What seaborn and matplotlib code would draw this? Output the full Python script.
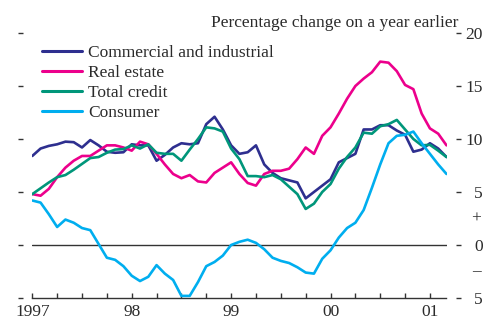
import numpy as np
import pandas as pd
import matplotlib
matplotlib.use("Agg")
import matplotlib.pyplot as plt
from matplotlib.ticker import MultipleLocator, FuncFormatter, FixedLocator
import seaborn as sns

# Monthly observations, January 1997 to March 2001
months = pd.date_range("1997-01-01", "2001-03-01", freq="MS")

commercial_industrial = [
    8.4, 9.1, 9.35, 9.5, 9.75, 9.7, 9.2, 9.9, 9.4, 8.8,
    8.7, 8.75, 9.5, 9.4, 9.4, 7.95, 8.5, 9.2, 9.6, 9.5,
    9.6, 11.4, 12.1, 10.9, 9.4, 8.6, 8.75, 9.4, 7.6, 6.8,
    6.3, 6.1, 5.9, 4.4, 5.0, 5.6, 6.2, 7.8, 8.2, 8.6,
    10.9, 10.9, 11.3, 11.3, 10.8, 10.4, 8.8, 9.0, 9.6, 9.1, 8.3,
]
real_estate = [
    4.8, 4.65, 5.3, 6.4, 7.3, 7.95, 8.4, 8.4, 8.9, 9.4,
    9.4, 9.2, 8.9, 9.75, 9.5, 8.6, 7.6, 6.7, 6.3, 6.6,
    6.0, 5.9, 6.8, 7.3, 7.8, 6.7, 5.85, 5.6, 6.7, 7.0,
    7.0, 7.2, 8.1, 9.2, 8.6, 10.3, 11.1, 12.4, 13.8, 15.0,
    15.7, 16.3, 17.3, 17.2, 16.4, 15.1, 14.7, 12.4, 11.0, 10.5, 9.4,
]
total_credit = [
    4.8, 5.35, 5.9, 6.4, 6.6, 7.1, 7.65, 8.2, 8.3, 8.7,
    9.0, 9.05, 9.4, 9.1, 9.5, 8.7, 8.6, 8.6, 7.95, 9.0,
    10.0, 11.1, 11.0, 10.7, 9.1, 8.1, 6.5, 6.5, 6.4, 6.6,
    6.2, 5.5, 4.8, 3.4, 3.9, 5.0, 5.75, 7.2, 8.3, 9.2,
    10.6, 10.5, 11.2, 11.4, 11.8, 10.9, 10.0, 9.4, 9.45, 8.9, 8.3,
]
consumer = [
    4.2, 4.0, 2.9, 1.7, 2.4, 2.1, 1.6, 1.4, 0.1, -1.2,
    -1.4, -2.0, -2.9, -3.4, -3.0, -1.9, -2.7, -3.3, -4.8, -4.8,
    -3.5, -2.0, -1.6, -1.0, 0.0, 0.3, 0.5, 0.2, -0.4, -1.2,
    -1.5, -1.7, -2.1, -2.6, -2.7, -1.3, -0.5, 0.7, 1.6, 2.1,
    3.3, 5.4, 7.6, 9.6, 10.3, 10.4, 10.7, 9.6, 8.6, 7.6, 6.7,
]

series_names = ["Commercial and industrial", "Real estate", "Total credit", "Consumer"]
series_colors = ["#2e2f8f", "#ec008c", "#00967a", "#00aeef"]
series_values = [commercial_industrial, real_estate, total_credit, consumer]

y_ticks = [-5, 0, 5, 10, 15, 20]
y_tick_labels = ["5", "0", "5", "10", "15", "20"]

# decimal-year positions for the monthly dates
year_pos = months.year + (months.month - 1) / 12.0

sns.set_theme(style="white")
plt.rcParams["font.family"] = ["Liberation Serif", "DejaVu Serif"]
text_color = "#2b2b2b"
fs = 12.5

fig = plt.figure(figsize=(4.87, 3.2), dpi=100)
W, H = 487, 320
ax_left, ax_right, ax_top, ax_bottom = 32.3, 446.5, 33.0, 298.0
ax = fig.add_axes([ax_left / W, 1 - ax_bottom / H,
                   (ax_right - ax_left) / W, (ax_bottom - ax_top) / H])

ax.axhline(0, color="#333333", lw=1.0, zorder=1)

for name, color, vals in zip(series_names, series_colors, series_values):
    df = pd.DataFrame({"date": year_pos, "value": vals})
    sns.lineplot(data=df, x="date", y="value", color=color, lw=1.9,
                 label=name, ax=ax, zorder=3)

ax.set_xlim(year_pos[0], year_pos[-1])
ax.set_ylim(-5, 20)
ax.set_xlabel("")
ax.set_ylabel("")

for side in ["top", "right", "left"]:
    ax.spines[side].set_visible(False)
ax.spines["bottom"].set_color("#333333")
ax.spines["bottom"].set_linewidth(1.0)
ax.spines["left"].set_position(("outward", 6.9))
ax.spines["right"].set_position(("outward", 6.6))

# x axis: years labelled, quarters ticked
ax.xaxis.set_major_locator(MultipleLocator(1.0))
ax.xaxis.set_minor_locator(MultipleLocator(0.25))
ax.xaxis.set_major_formatter(
    FuncFormatter(lambda v, p: "1997" if round(v) == 1997 else f"{int(round(v)) % 100:02d}"))
ax.tick_params(axis="x", which="both", direction="in", length=3.5, width=1.0,
               color="#333333", bottom=True, top=False)
ax.tick_params(axis="x", which="major", labelsize=fs, pad=4, labelcolor=text_color)

# y axis: dashes on both sides, labels on the right
ax.yaxis.set_major_locator(FixedLocator(y_ticks))
ax.set_yticklabels(y_tick_labels)
ax.tick_params(axis="y", which="major", left=True, right=True, labelleft=False,
               labelright=True, direction="out", length=3.6, width=1.0,
               color="#333333", labelsize=fs, pad=16, labelcolor=text_color)
for lab in ax.get_yticklabels():
    lab.set_horizontalalignment("right")

sign_tr = ax.get_yaxis_transform()
sx = (476.5 - ax_left) / (ax_right - ax_left)
ax.text(sx, 2.5, "+", transform=sign_tr, ha="center", va="center",
        fontsize=fs, color=text_color)
ax.text(sx, -2.5, "\u2013", transform=sign_tr, ha="center", va="center",
        fontsize=fs, color=text_color)

fig.text(458 / W, 1 - 27 / H, "Percentage change on a year earlier",
         ha="right", va="baseline", fontsize=fs, color=text_color)

handles, labels = ax.get_legend_handles_labels()
leg = ax.legend(handles, labels, loc="upper left",
                bbox_to_anchor=(42 / W, 1 - 45 / H), bbox_transform=fig.transFigure,
                frameon=False, fontsize=fs, handlelength=2.3, handletextpad=0.35,
                labelspacing=0.22, borderpad=0, borderaxespad=0)
for t in leg.get_texts():
    t.set_color(text_color)
for h in leg.get_lines():
    h.set_linewidth(2.2)

fig.savefig("out.png", dpi=100)
